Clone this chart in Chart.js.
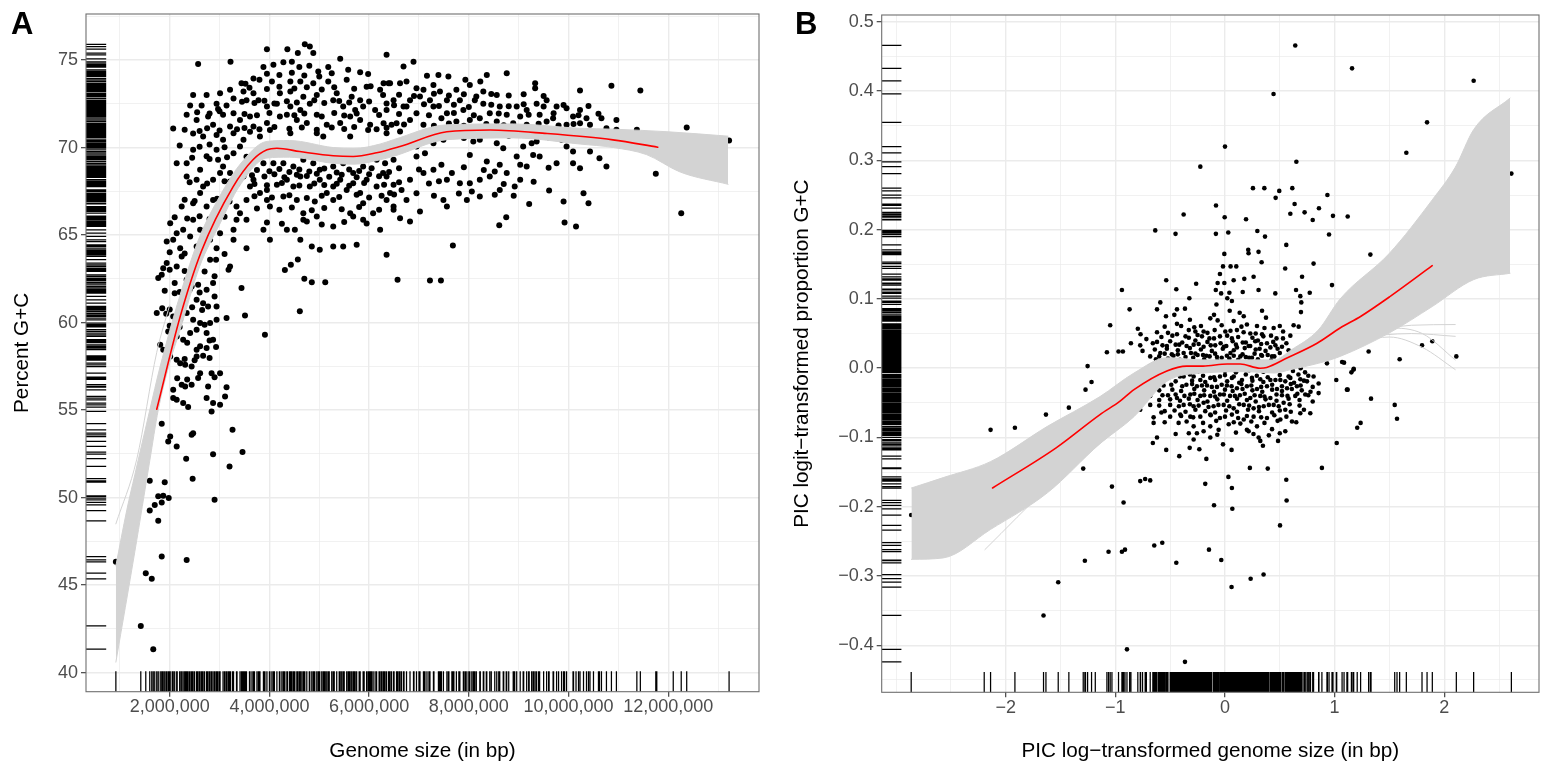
<!DOCTYPE html>
<html><head><meta charset="utf-8">
<script src="https://cdn.jsdelivr.net/npm/chart.js@4.4.1/dist/chart.umd.min.js"></script>
<style>
html,body{margin:0;padding:0;background:#fff;}
body{width:1547px;height:771px;position:relative;overflow:hidden;font-family:'Liberation Sans',Arial,sans-serif;}
canvas{position:absolute;top:0;}
#cA{left:0;width:773px;height:771px;}
#cB{left:773px;width:774px;height:771px;}
.tag{position:absolute;font-weight:bold;font-size:31px;line-height:31px;color:#000;z-index:5;font-family:'Liberation Sans',Arial,sans-serif;}
</style></head><body>
<div class="tag" style="left:11px;top:8px">A</div>
<div class="tag" style="left:795px;top:8px">B</div>
<canvas id="cA" width="773" height="771"></canvas>
<canvas id="cB" width="774" height="771"></canvas>
<script>
// ---------------- Panel A data (genome size in Mbp, percent G+C) ----------------
const pointsA = [
[4.71,75.9],[4.81,75.77],[3.95,75.62],[4.36,75.62],[4.57,75.4],[4.88,75.4],[6.35,75.3],[2.57,74.78],[3.22,74.9],[5.42,75.07],[4.28,74.88],[4.45,74.9],[4.08,74.73],[3.88,74.6],[4.6,74.6],[4.8,74.67],[5.18,74.6],[5.58,74.44],[5.82,74.3],[5.98,74.2],[4.98,74.35],[5.0,74.06],[5.55,73.87],[3.68,73.95],[3.44,73.68],[3.52,73.65],[3.8,73.87],[4.05,73.78],[4.42,73.78],[4.62,73.78],[4.88,73.68],[5.18,73.78],[6.03,73.5],[6.22,73.3],[6.39,73.68],[3.01,73.1],[2.47,73.0],[2.74,73.0],[3.21,73.3],[3.28,72.8],[3.48,73.2],[3.68,73.1],[4.21,73.1],[4.42,73.2],[4.68,72.9],[4.95,73.0],[5.35,73.1],[5.65,72.9],[5.82,72.7],[6.28,73.0],
[2.41,72.4],[2.64,72.4],[2.94,72.5],[2.97,72.2],[3.14,72.4],[3.28,71.96],[3.54,72.7],[3.78,72.7],[3.95,72.35],[4.15,72.5],[4.42,72.35],[4.62,72.15],[4.81,72.5],[5.28,72.7],[5.48,72.35],[5.72,72.15],[5.88,72.35],[6.12,72.15],[6.49,72.7],[2.07,71.09],[2.34,71.87],[2.54,71.58],[2.77,71.77],[2.87,71.3],[3.07,71.87],[3.21,71.2],[3.41,71.58],[3.61,71.77],[3.68,71.2],[3.95,71.4],[4.21,71.77],[4.35,71.87],[4.55,71.58],[4.75,71.4],[5.05,71.77],[5.15,71.3],[5.42,71.4],[5.62,71.77],[5.82,71.58],[6.02,71.3],[6.45,71.3],
[2.47,70.8],[2.67,70.63],[2.94,70.72],[3.07,70.44],[3.28,70.82],[3.48,70.44],[3.61,70.9],[3.81,70.63],[4.01,71.0],[4.42,70.82],[4.95,70.82],[5.08,70.63],[5.62,70.63],[5.98,71.0],[6.35,70.82],[2.47,69.87],[2.34,69.1],[2.14,69.1],[2.61,68.73],[2.74,69.5],[2.94,69.87],[2.97,69.3],[3.07,68.92],[3.21,68.54],[3.28,69.68],[3.41,70.06],[3.54,69.48],[3.68,68.16],[3.88,69.1],[4.08,69.1],[4.28,69.1],[4.48,68.92],[4.68,69.3],[4.88,69.1],[5.01,68.73],[5.28,68.92],[5.48,69.1],[5.68,68.54],[5.88,68.92],[6.15,69.3],[6.32,69.1],[6.49,69.3],
[2.34,68.35],[2.54,68.16],[2.67,67.77],[2.87,68.16],[3.01,68.54],[3.21,68.06],[3.48,68.35],[3.61,67.77],[3.81,67.4],[3.95,67.58],[4.15,67.87],[4.35,68.16],[4.48,67.77],[4.62,68.35],[4.81,67.77],[5.01,68.16],[5.15,67.4],[5.28,67.77],[5.42,68.16],[5.55,67.58],[5.68,67.96],[5.82,67.4],[5.95,68.16],[6.15,67.77],[6.28,68.54],[6.42,67.4],[2.24,66.63],[2.47,66.82],[2.61,67.4],[2.74,66.63],[2.87,67.01],[3.34,66.63],[3.41,66.25],[3.54,67.01],[3.95,67.01],[4.01,66.63],[4.28,67.2],[4.55,67.01],[4.68,66.25],[4.91,66.92],[5.28,67.01],[5.62,66.25],[5.88,66.82],[6.08,66.25],[6.35,67.01],[6.49,66.63],
[2.01,65.68],[2.14,65.11],[2.27,65.3],[2.47,65.87],[2.61,65.3],[2.87,65.49],[3.01,65.11],[3.28,65.3],[3.34,65.87],[3.54,65.87],[3.88,65.3],[4.35,65.3],[4.51,65.3],[4.68,65.87],[4.95,66.06],[5.28,65.49],[5.68,66.06],[5.88,65.87],[6.22,65.3],[1.94,64.63],[2.07,64.73],[2.21,64.25],[2.41,64.92],[2.54,64.35],[2.81,64.73],[2.94,64.25],[3.28,64.73],[3.54,64.25],[4.01,64.73],[4.62,64.73],[4.85,64.35],[5.01,64.16],[5.28,64.35],[5.48,64.35],[5.75,64.44],[6.35,63.87],
[6.69,74.63],[6.89,74.9],[7.16,74.1],[7.39,74.15],[7.59,74.06],[7.93,73.87],[8.23,73.78],[8.36,74.15],[8.76,74.25],[9.33,73.68],[9.33,73.39],[10.23,73.26],[10.86,73.53],[11.44,73.26],[6.29,73.68],[6.42,73.68],[6.62,73.68],[6.75,73.78],[6.95,73.39],[7.09,73.3],[7.29,73.58],[7.42,73.2],[7.75,73.3],[8.02,73.58],[8.29,73.2],[8.56,73.0],[6.82,72.7],[7.02,72.92],[7.22,72.7],[7.56,72.7],[7.82,72.7],[8.12,72.7],[8.29,72.5],[8.62,72.35],[8.96,72.35],[9.16,72.15],[9.36,72.5],[9.56,72.7],[9.76,72.35],[9.96,72.25],[10.23,72.15],[6.35,72.15],[6.69,72.35],[6.95,71.96],[7.29,72.35],[7.56,71.96],[7.89,72.15],[8.42,71.96],[8.76,71.87],[9.03,71.77],[9.42,71.87],[9.69,71.68],[10.09,71.77],[10.36,71.68],[10.66,71.68],[10.96,71.58],
[6.29,71.39],[6.55,71.39],[6.82,71.58],[7.09,71.3],[7.45,71.68],[7.75,71.49],[8.02,71.58],[8.22,71.68],[8.56,71.49],[8.89,71.39],[9.16,71.3],[9.56,71.49],[9.96,71.3],[10.23,71.39],[10.43,71.3],[10.76,71.1],[10.96,71.01],[11.37,71.01],[12.37,71.15],[13.22,70.4],[11.77,70.69],[12.1,70.57],[11.75,68.5],[12.26,66.25],[6.62,70.92],[6.95,70.06],[7.29,70.25],[7.49,70.44],[8.09,70.34],[8.22,70.44],[8.56,70.25],[8.69,69.96],[9.09,70.06],[9.26,70.25],[9.36,70.34],[9.86,70.44],[9.96,70.06],[10.09,69.77],[10.43,69.77],[6.95,69.49],[7.12,69.68],[8.02,69.58],[8.36,69.2],[8.96,69.49],[9.03,69.01],[9.16,68.92],[9.29,69.58],[9.42,69.49],[9.76,69.1],[10.09,69.1],[10.23,68.82],[10.62,69.39],[10.76,68.92],
[6.35,68.35],[6.49,67.87],[6.82,68.16],[7.09,68.54],[7.29,68.73],[7.45,69.01],[7.56,68.16],[7.66,68.54],[7.82,67.96],[8.02,67.96],[8.22,68.16],[8.42,68.35],[8.52,68.63],[8.62,69.01],[8.76,68.54],[8.92,67.77],[9.03,68.16],[8.06,67.49],[8.22,67.2],[8.52,67.3],[8.62,67.58],[9.61,67.54],[10.3,67.39],[10.4,66.82],[9.9,66.92],[9.21,66.78],[6.65,67.58],[6.75,67.01],[6.95,67.39],[6.49,66.44],[6.62,65.96],[6.82,65.77],[7.02,66.35],[7.49,67.01],[7.56,66.63],[7.96,67.01],[8.75,66.02],[8.61,65.56],[9.92,65.72],[10.15,65.49],[7.68,64.4],
[1.77,62.54],[1.84,62.73],[1.87,63.11],[1.94,63.4],[2.14,63.21],[2.24,63.78],[2.1,62.26],[2.34,62.45],[2.44,62.06],[2.57,62.16],[2.1,61.68],[2.27,61.3],[2.54,61.3],[2.74,61.87],[2.87,62.26],[2.9,62.64],[2.67,61.11],[2.77,60.92],[2.9,61.49],[2.94,60.92],[3.18,63.02],[3.21,63.21],[3.44,61.97],[2.93,63.59],[2.81,63.59],[1.74,60.54],[1.93,60.5],[2.07,60.35],[2.21,60.16],[2.34,60.54],[2.47,60.16],[2.61,59.97],[2.81,59.97],[2.94,60.16],[3.14,60.26],[3.51,60.41],[3.91,59.3],[4.61,60.64],[1.97,59.49],[2.14,59.21],[2.27,59.02],[2.41,59.4],[2.54,59.59],[2.74,59.4],[2.87,59.02],[2.61,58.64],[2.54,58.45],[2.74,58.54],[2.93,58.6],[1.81,58.73],[1.87,58.45],[2.01,58.06],[2.54,58.06],[2.67,58.1],
[2.14,57.87],[2.21,57.68],[2.31,57.59],[2.44,57.49],[2.61,57.11],[2.84,57.11],[3.01,57.11],[2.57,56.83],[2.77,56.35],[3.14,56.31],[2.07,56.16],[2.24,56.45],[2.31,56.35],[2.44,56.45],[2.07,55.69],[2.14,55.59],[2.27,55.4],[2.74,55.69],[2.87,55.4],[3.01,55.3],[3.11,55.78],[2.84,54.92],[2.37,55.17],[1.84,54.22],[2.01,53.49],[1.97,53.21],[2.14,52.92],[2.47,53.68],[2.44,53.59],[3.26,53.87],[2.33,52.22],[2.87,52.48],[3.46,52.6],[3.2,51.78],[2.46,51.08],[1.6,50.96],[1.9,50.88],[1.77,50.07],[1.87,50.1],[1.98,49.97],[2.9,49.87],
[1.6,49.26],[1.7,49.58],[1.84,49.72],[1.77,48.67],[1.84,46.63],[2.34,46.44],[1.52,45.68],[1.64,45.36],[1.42,42.67],[1.67,41.34],[0.92,46.33],
[4.31,63.0],[4.43,63.3],[4.57,63.6],[4.7,62.5],[4.85,62.3],[5.12,62.3],[6.57,62.45],[7.22,62.4],[7.44,62.4],
[3.75,68.72],[4.0,68.65],[4.2,68.78],[4.4,68.6],[4.6,68.74],[4.8,68.63],[5.1,68.8],[5.35,68.58],[5.6,68.75],[5.8,68.66],[6.05,68.82],[6.4,68.6],
[3.65,68.42],[3.9,68.35],[4.1,68.48],[4.3,68.3],[4.55,68.45],[4.75,68.38],[4.95,68.5],[5.2,68.33],[5.45,68.44],[5.75,68.3],[6.0,68.47],[6.2,68.36],
[3.7,67.92],[3.95,67.85],[4.25,67.98],[4.6,67.83],[4.9,67.95],[5.1,67.86],[5.35,67.93],[5.6,67.82],[5.9,67.97],[6.3,67.88],
[3.7,67.22],[4.05,67.15],[4.4,67.28],[4.75,67.12],[5.05,67.25],[5.4,67.18],[5.75,67.3],[6.0,67.14],[6.25,67.24],
[3.75,66.52],[4.2,66.45],[4.45,66.58],[4.85,66.42],[5.1,66.55],[5.45,66.48],[5.8,66.6],[6.2,66.44],
[3.95,65.72],[4.25,65.65],[4.75,65.78],[5.05,65.6],[5.5,65.74],[5.95,65.66],
[3.95,74.22],[4.2,74.15],[4.45,74.28],[4.7,74.12],[5.25,74.25],
[3.6,73.42],[3.95,73.35],[4.2,73.48],[4.5,73.38],[4.75,73.45],[5.05,73.32],[5.3,73.44],[5.7,73.36],[5.95,73.47],
[3.45,72.62],[3.7,72.55],[3.9,72.68],[4.1,72.52],[4.35,72.64],[4.55,72.57],[4.9,72.7],[5.1,72.54],[5.4,72.66],[5.6,72.58],[6.0,72.63],[6.35,72.52],
[3.5,71.92],[3.75,71.85],[4.0,71.98],[4.5,71.84],[4.7,71.95],[4.95,71.88],[5.3,71.97],[5.5,71.83],[5.75,71.94],[6.2,71.86],
[3.5,71.12],[3.8,71.05],[4.1,71.18],[4.4,71.08],[4.65,71.15],[4.95,71.02],[5.25,71.14],[5.5,71.06],[5.7,71.17],[6.15,71.04],[6.35,71.13],
[2.55,72.02],[2.8,71.95],[3.0,72.08],[2.3,71.02],[2.6,70.95],[2.75,71.1],[3.0,70.98],[3.35,71.05],[2.2,70.12],[2.6,70.05],[2.8,70.18],[3.1,70.02],
[2.45,69.42],[2.8,69.35],[3.15,69.45],[2.4,68.02],[2.75,67.95],[3.1,68.08],[3.35,67.92],[2.3,67.02],[2.5,66.95],[2.95,67.08],[3.2,66.92],
[2.1,66.02],[2.35,65.95],[2.6,66.08],[2.8,65.92],[3.1,66.05],[2.0,64.02],[2.3,63.95],[2.65,64.08],[3.1,63.92],[2.0,63.02],[2.3,62.95],[2.5,63.08],[2.7,62.92],
[1.9,61.82],[2.2,61.75],[2.4,61.88],[2.6,61.72],[1.85,60.82],[2.0,60.75],[2.45,60.88],[2.65,60.72],[2.0,59.82],[2.2,59.75],[2.7,59.88],
[2.05,58.92],[2.35,58.85],[2.8,58.98],[2.3,57.92],[2.5,57.85],[2.8,57.98],[2.15,56.82],[2.35,56.75],[2.9,56.88],
[6.6,73.02],[6.9,72.95],[7.3,73.08],[7.6,72.98],[7.9,73.05],[8.15,72.92],[8.45,73.06],[8.8,72.97],[9.1,73.04],[9.5,72.94],
[6.5,72.42],[6.75,72.35],[7.1,72.48],[7.4,72.38],[7.7,72.45],[8.0,72.32],[8.45,72.44],[8.8,72.36],[9.1,72.47],[9.5,72.34],[9.9,72.43],[10.4,72.37],
[6.6,71.92],[7.2,71.85],[7.7,71.98],[8.1,71.84],[8.6,71.95],[9.2,71.87],[9.7,71.96],[10.2,71.85],[10.6,71.93],
[6.7,71.32],[7.3,71.25],[7.6,71.38],[7.9,71.24],[8.35,71.35],[8.7,71.27],[9.4,71.36],[9.8,71.26],[10.1,71.34],
[7.0,70.62],[7.9,70.55],[8.8,70.68],[9.6,70.57],[10.5,70.64],[6.6,68.82],[7.0,68.75],[7.9,68.88],[8.3,68.72],[9.6,68.85],
[6.6,68.02],[7.2,67.95],[7.4,68.08],[8.7,67.92],[9.3,68.05],[6.5,67.32],[7.3,67.25],[7.8,67.38],[8.9,67.24]
];
const fitAX = [1.74,2.21,2.64,3.27,3.67,3.95,4.15,4.61,5.28,5.68,6.15,6.62,7.56,8.43,9.57,10.89,11.79];
const fitAY = [55.05,60.34,64.1,67.75,69.3,69.87,69.96,69.77,69.53,69.49,69.7,70.06,70.9,71.0,70.8,70.44,70.02];
const bandAUpper = [[0.92,46.1],[1.14,49.3],[1.3,51.3],[1.6,55.0],[1.8,57.4],[2.2,61.5],[2.6,64.9],[3.0,67.2],[3.4,69.0],[3.95,70.35],[4.4,70.4],[5.28,70.0],[5.7,69.95],[6.22,70.2],[6.49,70.45],[7.56,71.3],[8.89,71.35],[10.23,71.1],[10.9,71.05],[12.0,70.9],[13.2,70.65]];
const bandALower = [[0.92,40.6],[1.3,46.9],[1.6,52.1],[1.77,55.0],[2.0,57.7],[2.2,59.5],[2.6,63.2],[3.0,65.6],[3.4,67.8],[3.95,69.4],[4.4,69.45],[5.28,69.1],[5.7,69.05],[6.22,69.3],[6.49,69.5],[7.56,70.45],[8.89,70.55],[10.23,70.2],[10.9,70.0],[11.56,69.6],[12.24,68.6],[13.2,67.9]];
const greyLinesA = [
  [[0.92,48.5],[1.34,52.2],[1.74,58.3],[2.0,61.0]]
];
const xMajorA = [2,4,6,8,10,12];
const xMinorA = [1,3,5,7,9,11,13];
const yMajorA = [40,45,50,55,60,65,70,75];
const yMinorA = [42.5,47.5,52.5,57.5,62.5,67.5,72.5,77.5];

// ---------------- Panel B data (PIC log genome size, PIC logit G+C) ----------------
const pointsB = [
[0.641,0.466],[1.159,0.433],[0.443,0.396],[0.0,0.320],[-0.225,0.291],[0.651,0.298],[0.255,0.260],[0.359,0.260],[0.495,0.256],[0.614,0.260],[0.462,0.246],[0.635,0.237],[0.934,0.250],[0.596,0.223],[0.726,0.225],[0.857,0.231],[0.8,0.214],[0.985,0.220],[1.119,0.219],[-0.082,0.235],[-0.377,0.222],[-0.003,0.218],[0.192,0.215],
[-0.636,0.199],[-0.451,0.194],[-0.083,0.194],[0.03,0.196],[0.295,0.198],[0.365,0.19],[0.949,0.193],[0.559,0.178],[-0.006,0.165],[0.212,0.171],[0.215,0.166],[0.306,0.168],[0.334,0.153],[0.051,0.147],[0.103,0.147],[-0.018,0.147],[-0.046,0.136],[0.549,0.144],[0.808,0.151],[-0.536,0.127],[-0.067,0.123],[-0.006,0.123],[0.079,0.127],[0.176,0.129],[0.261,0.132],[0.703,0.132],[-0.263,0.122],[0.976,0.12],[-0.94,0.113],[-0.444,0.114],[-0.084,0.113],[-0.035,0.108],[0.04,0.109],[0.162,0.11],[0.306,0.113],[0.459,0.108],[0.648,0.113],[0.773,0.109],[-0.325,0.101],[0.021,0.101],[0.063,0.097],[0.687,0.104],[0.696,0.095],[-0.59,0.095],
[-0.87,0.085],[-0.62,0.085],[-0.438,0.085],[-0.365,0.086],[-0.078,0.092],[0.043,0.083],[0.134,0.080],[0.338,0.083],[0.374,0.073],[0.171,0.075],[-0.1,0.077],[0.693,0.081],[-0.462,0.077],[-0.538,0.075],[-1.047,0.062],[-0.795,0.057],[-0.438,0.064],[-0.32,0.07],[-0.219,0.061],[-0.134,0.072],[-0.067,0.069],[0.079,0.068],[0.2,0.063],[0.292,0.061],[0.444,0.058],[0.626,0.062],[-0.33,0.055],[-0.195,0.053],[-0.094,0.055],[0.003,0.053],[0.109,0.055],[0.231,0.05],[0.338,0.049],[0.42,0.047],[-0.77,0.049],[-0.717,0.042],[-0.52,0.051],[-0.438,0.049],[-0.36,0.046],[-0.25,0.048],[-0.142,0.043],[-0.046,0.046],[0.063,0.043],[0.162,0.037],[0.276,0.039],[0.383,0.036],[0.529,0.043],[0.596,0.047],[0.672,0.060],
[-0.858,0.036],[-0.773,0.033],[-0.658,0.036],[-0.53,0.032],[-0.417,0.034],[-0.286,0.034],[-0.195,0.031],[-0.089,0.033],[0.012,0.032],[0.109,0.03],[0.216,0.032],[0.316,0.028],[0.414,0.03],[-1.077,0.023],[-0.971,0.024],[-0.931,0.024],[-0.752,0.025],[-0.682,0.017],[-0.59,0.022],[-0.485,0.02],[-0.377,0.022],[-0.27,0.021],[-0.17,0.018],[-0.073,0.016],[0.018,0.018],[0.14,0.017],[0.246,0.015],[0.338,0.018],[0.429,0.017],[0.529,0.013],[-0.485,0.01],[-0.347,0.01],[-0.225,0.007],[-0.104,0.005],
[-0.377,-0.012],[-0.286,-0.012],[-0.225,-0.017],[-0.134,-0.014],[-0.046,-0.012],[0.063,-0.014],[0.155,-0.017],[0.246,-0.014],[0.322,-0.016],[0.414,-0.017],[0.505,-0.017],[0.596,-0.014],[0.687,-0.016],[0.808,-0.012],[-0.352,-0.024],[-0.256,-0.026],[-0.164,-0.025],[-0.073,-0.027],[0.018,-0.025],[0.109,-0.029],[0.2,-0.026],[0.292,-0.03],[0.383,-0.026],[0.474,-0.03],[0.566,-0.029],[0.656,-0.026],[0.748,-0.019],[0.854,-0.022],[1.068,0.009],[1.173,-0.002],[1.112,-0.031],[1.015,-0.017],[0.93,0.007],[-0.53,-0.012],[-0.605,-0.002],[-0.682,0.003],
[-0.316,-0.038],[-0.225,-0.04],[-0.134,-0.04],[-0.046,-0.038],[0.046,-0.04],[0.136,-0.039],[0.231,-0.043],[0.322,-0.04],[0.414,-0.043],[0.52,-0.039],[0.641,-0.04],[0.732,-0.038],[0.854,-0.036],[-0.682,-0.04],[-0.52,-0.039],[-0.438,-0.043],[-0.377,-0.053],[-0.286,-0.055],[-0.195,-0.05],[-0.104,-0.055],[-0.012,-0.053],[0.079,-0.058],[0.171,-0.053],[0.261,-0.058],[0.353,-0.055],[0.444,-0.053],[0.535,-0.05],[0.55,-0.06],[-0.682,-0.053],[-0.773,-0.06],[-0.58,-0.064],[-0.408,-0.067],[-0.316,-0.07],[-0.225,-0.07],[-0.134,-0.067],[-0.046,-0.072],[0.063,-0.067],[0.171,-0.074],[0.261,-0.07],[0.383,-0.072],[0.505,-0.074],[0.687,-0.065],[0.778,-0.065],[-0.651,-0.071],[-0.651,-0.079],
[-0.423,-0.079],[-0.286,-0.084],[-0.134,-0.084],[-0.058,-0.089],[0.034,-0.081],[0.2,-0.089],[0.292,-0.084],[0.429,-0.088],[0.55,-0.091],[0.611,-0.077],[-0.256,-0.094],[-0.195,-0.091],[0.216,-0.091],[0.307,-0.1],[-0.62,-0.1],[-0.286,-0.103],[-0.134,-0.1],[0.322,-0.105],[0.346,-0.112],[0.484,-0.105],[1.019,-0.108],[1.206,-0.086],[1.237,-0.079],[-0.658,-0.108],[-0.536,-0.118],[-0.322,-0.115],[-0.234,-0.117],[-0.018,-0.11],[0.06,-0.118],[-0.417,-0.127],[-0.17,-0.131],[0.227,-0.144],[0.39,-0.145],[0.884,-0.144],[-0.773,-0.163],[-0.728,-0.16],[-0.682,-0.162],[0.031,-0.157],[0.559,-0.161],[-1.031,-0.171],[-0.18,-0.167],[0.063,-0.173],
[-1.253,0.003],[-1.217,-0.020],[-1.272,-0.031],[-1.424,-0.057],[-1.633,-0.067],[-1.916,-0.086],[-2.138,-0.089],[-1.183,-0.103],[-1.293,-0.145],[-2.862,-0.212],[-2.196,-0.234],[-1.278,-0.278],[-1.062,-0.265],
[-0.925,-0.194],[-0.94,-0.265],[-0.912,-0.262],[-0.645,-0.256],[-0.572,-0.252],[-0.444,-0.281],[-1.521,-0.309],[-1.655,-0.357],[-0.894,-0.406],
[-0.1,-0.198],[0.067,-0.203],[0.562,-0.191],[0.502,-0.227],[-0.146,-0.262],[-0.034,-0.277],[0.06,-0.316],[0.234,-0.304],[0.352,-0.298],[-0.365,-0.424],
[2.268,0.415],[1.843,0.355],[1.654,0.311],[2.612,0.281],[1.326,0.164],[1.086,0.008],[1.31,0.024],[1.593,0.013],[1.891,0.039],[1.797,0.033],[2.11,0.017],[1.174,-0.001],[1.153,-0.006],[1.119,-0.031],[1.332,-0.044],[1.548,-0.053],[1.569,-0.073],
[-0.58,0.045],[-0.48,0.047],[-0.33,0.044],[-0.21,0.046],[-0.1,0.043],[0.02,0.047],[0.12,0.045],[0.25,0.044],[0.35,0.046],[0.47,0.043],
[-0.62,0.038],[-0.5,0.039],[-0.39,0.037],[-0.27,0.04],[-0.16,0.038],[-0.04,0.036],[0.07,0.039],[0.19,0.037],[0.3,0.04],[0.44,0.038],[0.56,0.036],
[-0.64,0.027],[-0.53,0.028],[-0.43,0.026],[-0.32,0.029],[-0.22,0.027],[-0.12,0.025],[-0.02,0.028],[0.08,0.026],[0.18,0.029],[0.28,0.027],[0.37,0.025],[0.48,0.028],[0.58,0.026],
[-0.55,0.021],[-0.43,0.02],[-0.31,0.022],[-0.2,0.019],[-0.09,0.021],[0.05,0.022],[0.16,0.02],[0.27,0.021],[0.39,0.019],[0.5,0.022],
[-0.63,0.013],[-0.52,0.014],[-0.41,0.012],[-0.29,0.015],[-0.19,0.013],[-0.07,0.011],[0.04,0.014],[0.12,0.012],[0.22,0.015],[0.3,0.013],[0.42,0.011],[0.6,0.014],
[-0.58,0.006],[-0.45,0.007],[-0.3,0.005],[-0.15,0.008],[-0.02,0.006],[0.09,0.004],[0.2,0.007],[0.32,0.005],[0.45,0.008],[0.55,0.006],[0.65,0.004],
[-0.5,-0.004],[-0.38,-0.003],[-0.25,-0.005],[-0.12,-0.002],[0.0,-0.004],[0.1,-0.006],[0.22,-0.003],[0.35,-0.005],[0.48,-0.002],[0.62,-0.004],[0.73,-0.006],
[-0.45,-0.019],[-0.3,-0.018],[-0.18,-0.02],[-0.09,-0.017],[0.02,-0.019],[0.13,-0.021],[0.25,-0.018],[0.35,-0.02],[0.46,-0.017],[0.55,-0.019],[0.63,-0.021],[0.72,-0.018],
[-0.6,-0.032],[-0.48,-0.031],[-0.4,-0.033],[-0.28,-0.03],[-0.19,-0.032],[-0.1,-0.034],[0.0,-0.031],[0.07,-0.033],[0.16,-0.03],[0.25,-0.032],[0.34,-0.034],[0.43,-0.031],[0.52,-0.033],[0.61,-0.03],[0.7,-0.032],[0.78,-0.034],
[-0.6,-0.046],[-0.5,-0.045],[-0.41,-0.047],[-0.33,-0.044],[-0.25,-0.046],[-0.16,-0.048],[-0.07,-0.045],[0.02,-0.047],[0.11,-0.044],[0.2,-0.046],[0.28,-0.048],[0.37,-0.045],[0.47,-0.047],[0.58,-0.044],[0.68,-0.046],[0.8,-0.048],
[-0.55,-0.062],[-0.46,-0.061],[-0.36,-0.063],[-0.27,-0.06],[-0.18,-0.062],[-0.09,-0.064],[0.01,-0.061],[0.11,-0.063],[0.21,-0.06],[0.31,-0.062],[0.43,-0.064],[0.5,-0.061],[0.6,-0.063],[0.72,-0.06],
[-0.55,-0.078],[-0.35,-0.077],[-0.2,-0.079],[-0.08,-0.076],[0.08,-0.078],[0.14,-0.08],[0.24,-0.077],[0.36,-0.079],[0.48,-0.076],[0.65,-0.078],
[-0.45,-0.095],[-0.33,-0.094],[-0.07,-0.096],[0.1,-0.093],[0.26,-0.095],[0.4,-0.097],[0.5,-0.094],
[-0.55,0.06],[-0.4,0.061],[-0.28,0.059],[-0.03,0.062],[0.15,0.06],[0.36,0.058],[0.5,0.061],
[-0.62,0.052],[-0.27,0.053],[-0.16,0.051],[0.05,0.054],[0.17,0.052],[0.28,0.05],[0.53,0.053],
[-0.57,0.033],[-0.45,0.034],[-0.35,0.032],[-0.24,0.035],[-0.13,0.033],[-0.01,0.031],[0.1,0.034],[0.23,0.032],[0.33,0.035],[0.46,0.033],[0.52,0.031],
[-0.6,0.017],[-0.47,0.018],[-0.36,0.016],[-0.25,0.019],[-0.14,0.017],[-0.03,0.015],[0.08,0.018],[0.19,0.016],[0.33,0.019],[0.45,0.017],[0.55,0.015],
[-0.62,0.001],[-0.52,0.002],[-0.41,0.0],[-0.34,0.003],[-0.2,0.001],[-0.07,-0.001],[0.05,0.002],[0.15,0.0],[0.27,0.003],[0.4,0.001],[0.52,-0.001],[0.6,0.002],[0.69,0.0],
[-0.6,-0.011],[-0.48,-0.01],[-0.41,-0.012],[-0.32,-0.009],[-0.2,-0.011],[-0.1,-0.013],[0.0,-0.01],[0.08,-0.012],[0.19,-0.009],[0.29,-0.011],[0.39,-0.013],[0.5,-0.01],[0.58,-0.012],[0.67,-0.009],[0.76,-0.011],
[-0.56,-0.025],[-0.49,-0.024],[-0.39,-0.026],[-0.3,-0.023],[-0.21,-0.025],[-0.12,-0.027],[-0.03,-0.024],[0.06,-0.026],[0.15,-0.023],[0.24,-0.025],[0.33,-0.027],[0.43,-0.024],[0.52,-0.026],[0.6,-0.023],[0.69,-0.025],[0.8,-0.027],
[-0.57,-0.039],[-0.45,-0.038],[-0.37,-0.04],[-0.28,-0.037],[-0.19,-0.039],[-0.09,-0.041],[-0.01,-0.038],[0.09,-0.04],[0.18,-0.037],[0.27,-0.039],[0.36,-0.041],[0.47,-0.038],[0.57,-0.04],[0.66,-0.037],[0.76,-0.039],
[-0.6,-0.054],[-0.5,-0.053],[-0.42,-0.055],[-0.32,-0.052],[-0.24,-0.054],[-0.15,-0.056],[-0.06,-0.053],[0.04,-0.055],[0.13,-0.052],[0.22,-0.054],[0.31,-0.056],[0.4,-0.053],[0.49,-0.055],[0.59,-0.052],[0.68,-0.054],
[-0.5,-0.07],[-0.4,-0.069],[-0.29,-0.071],[-0.13,-0.068],[0.0,-0.07],[0.12,-0.072],[0.2,-0.069],[0.33,-0.071],[0.45,-0.068],[0.56,-0.07]
];
const fitBX = [-2.12,-1.54,-1.14,-0.96,-0.83,-0.53,-0.35,-0.2,0.02,0.14,0.32,0.38,0.57,0.84,1.05,1.24,1.51,1.89];
const fitBY = [-0.173,-0.115,-0.067,-0.048,-0.031,-0.004,0.003,0.003,0.006,0.006,0.0,0.001,0.015,0.036,0.058,0.075,0.104,0.148];
const bandBUpper = [[-2.86,-0.173],[-2.57,-0.158],[-2.14,-0.135],[-1.62,-0.084],[-1.14,-0.041],[-0.83,-0.007],[-0.53,0.015],[-0.2,0.012],[0.2,0.012],[0.45,0.012],[0.6,0.026],[0.85,0.055],[1.05,0.1],[1.5,0.166],[1.89,0.243],[2.1,0.29],[2.27,0.345],[2.6,0.39]];
const bandBLower = [[-2.86,-0.276],[-2.57,-0.274],[-2.14,-0.233],[-1.62,-0.18],[-1.14,-0.109],[-0.83,-0.07],[-0.53,-0.019],[-0.2,-0.007],[0.2,-0.005],[0.45,-0.007],[0.6,-0.002],[0.85,0.007],[1.05,0.017],[1.5,0.051],[1.89,0.089],[2.27,0.128],[2.6,0.137]];
const greyLinesB = [
  [[-2.19,-0.262],[-1.6,-0.17],[-0.95,-0.084]],
  [[1.0,0.03],[1.5,0.045],[1.8,0.03],[2.1,-0.002]],
  [[1.0,0.035],[1.5,0.058],[1.8,0.05],[2.1,0.012]],
  [[1.2,0.05],[1.7,0.062],[2.1,0.063]],
  [[1.2,0.045],[1.7,0.05],[2.1,0.046]]
];
const xMajorB = [-2,-1,0,1,2];
const xMinorB = [-3,-2.5,-1.5,-0.5,0.5,1.5,2.5];
const yMajorB = [-0.4,-0.3,-0.2,-0.1,0,0.1,0.2,0.3,0.4,0.5];
const yMinorB = [-0.45,-0.35,-0.25,-0.15,-0.05,0.05,0.15,0.25,0.35,0.45];

// ---------------- helpers ----------------
const FONT = "'Liberation Sans', Arial, Helvetica, sans-serif";
const GREY = '#d3d3d3';
const toXY = arr => arr.map(p => ({x: p[0], y: p[1]}));
const zipXY = (xs, ys) => xs.map((v, i) => ({x: v, y: ys[i]}));
const minus = s => s.replace('-', '\u2212');

function makeAxis(o) {
  const all = o.majors.concat(o.minors).sort((a, b) => a - b);
  const isMajor = v => o.majors.some(m => Math.abs(m - v) < 1e-9);
  return {
    type: 'linear', position: o.position, min: o.min, max: o.max, bounds: 'data',
    afterBuildTicks: s => { s.ticks = all.map(v => ({value: v})); },
    afterFit: s => { if (o.position === 'left') s.width = o.size; else s.height = o.size; },
    grid: {
      color: '#EBEBEB',
      lineWidth: c => (c.tick && isMajor(c.tick.value)) ? 1.4 : 0.7,
      drawTicks: true, tickLength: 5, tickWidth: 1.1,
      tickColor: c => (c.tick && isMajor(c.tick.value)) ? '#333333' : 'rgba(0,0,0,0)'
    },
    border: {display: false},
    ticks: {
      autoSkip: false, maxRotation: 0, minRotation: 0, padding: o.tickPad,
      color: '#4D4D4D', font: {family: FONT, size: 18},
      callback: v => isMajor(v) ? o.fmt(v) : ''
    },
    title: {display: true, text: o.title, color: '#000', font: {family: FONT, size: 20.7}, padding: o.titlePad}
  };
}

function rugAndBorder(points) {
  return {
    id: 'rugBorder',
    beforeDatasetsDraw(chart) {
      const {ctx, chartArea: a, scales: {x, y}} = chart;
      const lx = (a.right - a.left) * 0.03, ly = (a.bottom - a.top) * 0.03;
      ctx.save();
      ctx.beginPath(); ctx.rect(a.left, a.top, a.right - a.left, a.bottom - a.top); ctx.clip();
      ctx.strokeStyle = '#000'; ctx.lineWidth = 1.25;
      ctx.beginPath();
      for (const p of points) {
        const px = x.getPixelForValue(p[0]);
        const py = y.getPixelForValue(p[1]);
        ctx.moveTo(px, a.bottom); ctx.lineTo(px, a.bottom - ly);
        ctx.moveTo(a.left, py); ctx.lineTo(a.left + lx, py);
      }
      ctx.stroke();
      ctx.restore();
    },
    afterDraw(chart) {
      const {ctx, chartArea: a} = chart;
      ctx.save();
      ctx.strokeStyle = '#6f6f6f'; ctx.lineWidth = 1.1;
      ctx.strokeRect(a.left, a.top, a.right - a.left, a.bottom - a.top);
      ctx.restore();
    }
  };
}

function buildDatasets(fit, greyLines, upper, lower, pts, r) {
  const ds = [];
  ds.push({data: fit, borderColor: '#FF0000', borderWidth: 1.6, pointRadius: 0, fill: false, cubicInterpolationMode: 'monotone'});
  greyLines.forEach(l => ds.push({data: toXY(l), borderColor: GREY, borderWidth: 1, pointRadius: 0, fill: false, cubicInterpolationMode: 'monotone'}));
  ds.push({data: toXY(upper), borderColor: GREY, backgroundColor: GREY, borderWidth: 1, pointRadius: 0, fill: '+1', cubicInterpolationMode: 'monotone'});
  ds.push({data: toXY(lower), borderColor: GREY, borderWidth: 1, pointRadius: 0, fill: false, cubicInterpolationMode: 'monotone'});
  ds.push({data: toXY(pts), showLine: false, pointRadius: r, pointBorderWidth: 0, pointBackgroundColor: '#000', borderColor: '#000'});
  return ds;
}

const common = {
  responsive: false, animation: false,
  plugins: {legend: {display: false}, tooltip: {enabled: false}},
  elements: {line: {borderCapStyle: 'round'}}
};

new Chart(document.getElementById('cA'), {
  type: 'line',
  data: {datasets: buildDatasets(zipXY(fitAX, fitAY), greyLinesA, bandAUpper, bandALower, pointsA, 3.0)},
  options: Object.assign({}, common, {
    layout: {padding: {left: 0, top: 14, right: 14, bottom: 0}},
    scales: {
      x: makeAxis({position: 'bottom', min: 0.321, max: 13.82, majors: xMajorA, minors: xMinorA, size: 79.3, tickPad: 0,
        fmt: v => (v * 1e6).toLocaleString('en-US'), title: 'Genome size (in bp)', titlePad: {top: 0, bottom: 7.6}}),
      y: makeAxis({position: 'left', min: 38.91, max: 77.63, majors: yMajorA, minors: yMinorA, size: 86, tickPad: 3,
        fmt: v => String(v), title: 'Percent G+C', titlePad: {top: 9.4, bottom: 0}})
    }
  }),
  plugins: [rugAndBorder(pointsA)]
});

new Chart(document.getElementById('cB'), {
  type: 'line',
  data: {datasets: buildDatasets(zipXY(fitBX, fitBY), greyLinesB, bandBUpper, bandBLower, pointsB, 2.3)},
  options: Object.assign({}, common, {
    layout: {padding: {left: 0, top: 15, right: 8, bottom: 0}},
    scales: {
      x: makeAxis({position: 'bottom', min: -3.131, max: 2.864, majors: xMajorB, minors: xMinorB, size: 78.7, tickPad: 0,
        fmt: v => minus(String(v)), title: 'PIC log\u2212transformed genome size (in bp)', titlePad: {top: 0, bottom: 7.6}}),
      y: makeAxis({position: 'left', min: -0.468, max: 0.510, majors: yMajorB, minors: yMinorB, size: 108.7, tickPad: 3,
        fmt: v => minus(v.toFixed(1)), title: 'PIC logit\u2212transformed proportion G+C', titlePad: {top: 16.9, bottom: 0}})
    }
  }),
  plugins: [rugAndBorder(pointsB)]
});
</script>
</body></html>
